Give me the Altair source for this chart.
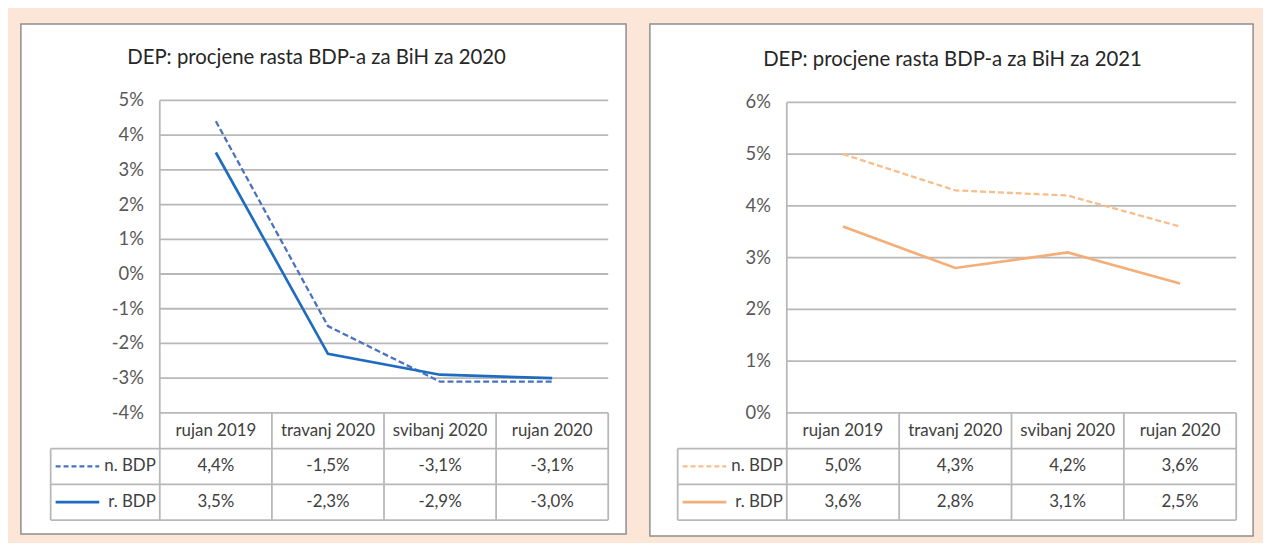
import altair as alt
import pandas as pd

# ---------------- data ----------------
categories = ["rujan 2019", "travanj  2020", "svibanj 2020", "rujan 2020"]
series_labels = ["n. BDP", "r.  BDP"]

title_2020 = "DEP: procjene rasta BDP-a za BiH za 2020"
n_bdp_2020 = [4.4, -1.5, -3.1, -3.1]
r_bdp_2020 = [3.5, -2.3, -2.9, -3.0]
ticks_2020 = [-4, -3, -2, -1, 0, 1, 2, 3, 4, 5]

title_2021 = "DEP: procjene rasta BDP-a za BiH za 2021"
n_bdp_2021 = [5.0, 4.3, 4.2, 3.6]
r_bdp_2021 = [3.6, 2.8, 3.1, 2.5]
ticks_2021 = [0, 1, 2, 3, 4, 5, 6]

FONT = "Lato"
GRID = "#B8B8B8"
TXT = 17
TICK = 18.5


def fmt(v):
    return f"{v:.1f}".replace(".", ",") + "%"


def panel(title, n_vals, r_vals, ticks, geo, col_n, col_r):
    W, H = geo["W"], geo["H"]
    pL, pR = geo["pL"], geo["pR"]
    yTop, yBot = geo["yTop"], geo["yBot"]
    tTop, tBot = geo["tTop"], geo["tBot"]
    legL = geo["legL"]
    rowH = (tBot - tTop) / 3.0

    xscale = alt.Scale(type="band", domain=categories, range=[pL, pR],
                       paddingInner=0, paddingOuter=0)
    yscale = alt.Scale(domain=[ticks[0], ticks[-1]], range=[yBot, yTop],
                       nice=False, zero=False)
    rows = ["hdr", "n", "r"]
    rowscale = alt.Scale(type="band", domain=rows, range=[tTop, tBot],
                         paddingInner=0, paddingOuter=0)

    ticks_df = pd.DataFrame({"v": ticks, "lab": [f"{t}%" for t in ticks]})
    n_df = pd.DataFrame({"cat": categories, "value": n_vals})
    r_df = pd.DataFrame({"cat": categories, "value": r_vals})
    cat_df = pd.DataFrame({"cat": categories, "row": ["hdr"] * 4})
    cells_df = pd.DataFrame({
        "cat": categories * 2,
        "row": ["n"] * 4 + ["r"] * 4,
        "txt": [fmt(v) for v in n_vals] + [fmt(v) for v in r_vals],
    })
    leg_df = pd.DataFrame({"row": ["n", "r"], "lab": series_labels})
    title_df = pd.DataFrame({"t": [title]})

    grid = alt.Chart(ticks_df).mark_rule(color=GRID, strokeWidth=1.8).encode(
        y=alt.Y("v:Q", scale=yscale, axis=None),
        x=alt.value(pL), x2=alt.value(pR))
    ylabels = alt.Chart(ticks_df).mark_text(
        align="right", baseline="middle", font=FONT, fontSize=TICK, color="#595959"
    ).encode(y=alt.Y("v:Q", scale=yscale, axis=None), x=alt.value(pL - 16),
             text="lab:N")

    left_border = alt.Chart(title_df).mark_rule(color=GRID, strokeWidth=1.8).encode(
        x=alt.value(pL), y=alt.value(yTop), y2=alt.value(tBot))
    inner_v = alt.Chart(cat_df.iloc[1:]).mark_rule(color=GRID, strokeWidth=1.8).encode(
        x=alt.X("cat:N", scale=xscale, axis=None, bandPosition=0),
        y=alt.value(tTop), y2=alt.value(tBot))
    right_v = alt.Chart(cat_df.iloc[3:]).mark_rule(color=GRID, strokeWidth=1.8).encode(
        x=alt.X("cat:N", scale=xscale, axis=None, bandPosition=1),
        y=alt.value(tTop), y2=alt.value(tBot))
    leg_v = alt.Chart(title_df).mark_rule(color=GRID, strokeWidth=1.8).encode(
        x=alt.value(legL), y=alt.value(tTop + rowH), y2=alt.value(tBot))
    row_h = alt.Chart(pd.DataFrame({"row": rows})).mark_rule(
        color=GRID, strokeWidth=1.8).encode(
        y=alt.Y("row:N", scale=rowscale, axis=None, bandPosition=1),
        x=alt.value(legL), x2=alt.value(pR))

    line_n = alt.Chart(n_df).mark_line(color=col_n, strokeWidth=2.3,
                                       strokeDash=[6, 3]).encode(
        x=alt.X("cat:N", scale=xscale, axis=None, bandPosition=0.5, sort=categories),
        y=alt.Y("value:Q", scale=yscale, axis=None))
    line_r = alt.Chart(r_df).mark_line(color=col_r, strokeWidth=2.7).encode(
        x=alt.X("cat:N", scale=xscale, axis=None, bandPosition=0.5, sort=categories),
        y=alt.Y("value:Q", scale=yscale, axis=None))

    hdr = alt.Chart(cat_df).mark_text(font=FONT, fontSize=TXT, color="#404040",
                                      baseline="middle").encode(
        x=alt.X("cat:N", scale=xscale, axis=None, bandPosition=0.5),
        y=alt.Y("row:N", scale=rowscale, axis=None, bandPosition=0.5),
        text="cat:N")
    cells = alt.Chart(cells_df).mark_text(font=FONT, fontSize=TXT, color="#404040",
                                          baseline="middle").encode(
        x=alt.X("cat:N", scale=xscale, axis=None, bandPosition=0.5),
        y=alt.Y("row:N", scale=rowscale, axis=None, bandPosition=0.5),
        text="txt:N")
    leg_txt = alt.Chart(leg_df).mark_text(font=FONT, fontSize=TXT, color="#404040",
                                          align="right", baseline="middle").encode(
        x=alt.value(pL - 4),
        y=alt.Y("row:N", scale=rowscale, axis=None, bandPosition=0.5),
        text="lab:N")
    leg_n = alt.Chart(leg_df.iloc[:1]).mark_rule(color=col_n, strokeWidth=2.3,
                                                 strokeDash=[5, 3]).encode(
        x=alt.value(legL + 5), x2=alt.value(legL + 49),
        y=alt.Y("row:N", scale=rowscale, axis=None, bandPosition=0.5))
    leg_r = alt.Chart(leg_df.iloc[1:]).mark_rule(color=col_r, strokeWidth=2.7).encode(
        x=alt.value(legL + 5), x2=alt.value(legL + 49),
        y=alt.Y("row:N", scale=rowscale, axis=None, bandPosition=0.5))

    ttl = alt.Chart(title_df).mark_text(font=FONT, fontSize=20.5, color="#262626",
                                        baseline="middle").encode(
        x=alt.value(geo["tx"]), y=alt.value(geo["ty"]), text="t:N")

    return alt.layer(
        grid, left_border, inner_v, right_v, leg_v, row_h, ylabels,
        line_n, line_r, hdr, cells, leg_txt, leg_n, leg_r, ttl
    ).resolve_scale(y="independent").properties(width=W, height=H)


geo_l = dict(W=610, H=514, pL=140, pR=592, yTop=77, yBot=392, tTop=392, tBot=500,
             legL=30, tx=298, ty=34)
geo_r = dict(W=608, H=516, pL=138, pR=591, yTop=79, yBot=392, tTop=392, tBot=500,
             legL=28, tx=305, ty=36)

left = panel(title_2020, n_bdp_2020, r_bdp_2020, ticks_2020, geo_l, "#4A72BE", "#1F6BC0")
right = panel(title_2021, n_bdp_2021, r_bdp_2021, ticks_2021, geo_r, "#F7BE8C", "#F4AE78")

chart = alt.hconcat(left, right, spacing=22).properties(
    padding={"left": 12, "top": 13, "right": 9, "bottom": 4},
    background="#FCE6D7",
).configure_view(fill="white", stroke="#8E8E8E", strokeWidth=1.5)

chart.save("out.html", embed_options={"renderer": "svg", "actions": False})
